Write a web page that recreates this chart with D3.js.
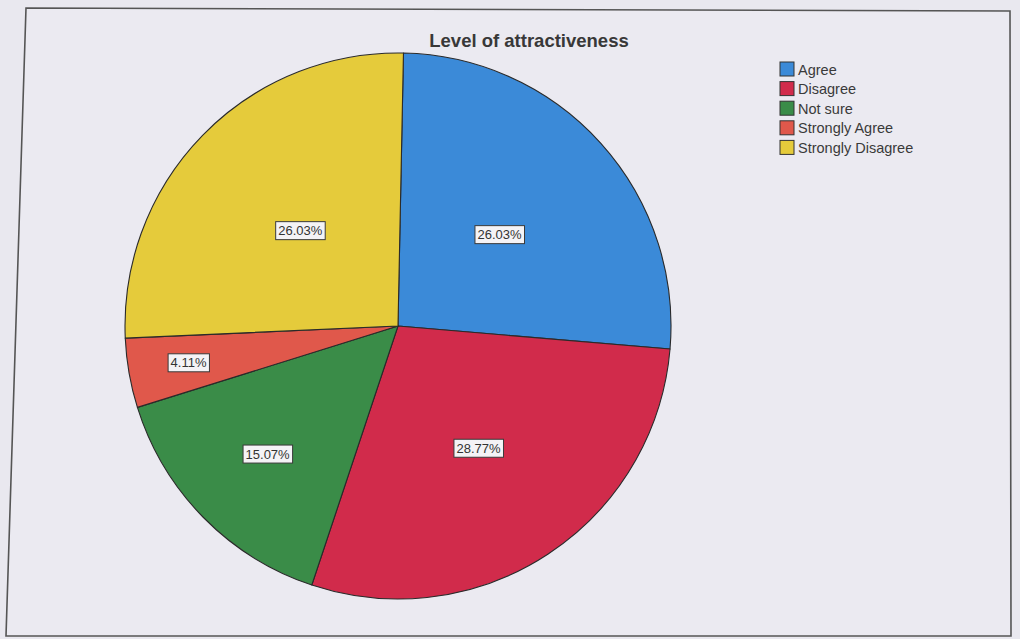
<!DOCTYPE html>
<html>
<head>
<meta charset="utf-8">
<script src="https://cdn.jsdelivr.net/npm/d3@7"></script>
<style>
  html, body { margin: 0; padding: 0; background: #e9e8ef; }
  svg { display: block; }
</style>
</head>
<body>
<svg id="chart" width="1020" height="639"></svg>
<script>
// Responses to "Level of attractiveness" (percent of respondents)
const categories = ["Agree", "Disagree", "Not sure", "Strongly Agree", "Strongly Disagree"];
const percents   = [26.03, 28.77, 15.07, 4.11, 26.03];
const colors     = ["#3b8ad8", "#d12b4b", "#3a8c48", "#e0584b", "#e5cb3b"];
const title = "Level of attractiveness";

const W = 1020, H = 639;
const svg = d3.select("#chart");

// page background and the chart frame
svg.append("rect").attr("width", W).attr("height", H).attr("fill", "#e9e8ef");
svg.append("path")
  .attr("d", "M26,8 L1010,11 L1011,636 L6,636 Z")
  .attr("fill", "#ebeaf1")
  .attr("stroke", "#555")
  .attr("stroke-width", 1.6);

const cx = 398, cy = 326, R = 273;
const rot = 0.02;

const color = d3.scaleOrdinal().domain(categories).range(colors);

const pie = d3.pie()
  .value(d => d.value)
  .sort(null)
  .startAngle(rot)
  .endAngle(2 * Math.PI + rot);

const data = categories.map((c, i) => ({ name: c, value: percents[i] }));
const arcs = pie(data);

const arc = d3.arc().innerRadius(0).outerRadius(R);

const g = svg.append("g").attr("transform", `translate(${cx},${cy})`);

g.selectAll("path.slice")
  .data(arcs)
  .join("path")
  .attr("class", "slice")
  .attr("d", arc)
  .attr("fill", d => color(d.data.name))
  .attr("stroke", "#2a2a2a")
  .attr("stroke-width", 1.1)
  .attr("stroke-linejoin", "round");

// value labels: narrow slices push their label further out
function labelFrac(p) {
  return p >= 0.2 ? 0.5 + 1.3 * (p - 0.26) : 0.82 - p;
}

const labelG = g.selectAll("g.lbl")
  .data(arcs)
  .join("g")
  .attr("class", "lbl")
  .attr("transform", d => {
    const r = R * labelFrac(d.data.value / 100);
    const a = (d.startAngle + d.endAngle) / 2;
    return `translate(${r * Math.sin(a)},${-r * Math.cos(a)})`;
  });

labelG.each(function(d) {
  const sel = d3.select(this);
  const t = sel.append("text")
    .attr("text-anchor", "middle")
    .attr("dy", "0.35em")
    .attr("font-family", "Liberation Sans, Arial, sans-serif")
    .attr("font-size", 13)
    .attr("fill", "#333")
    .text(d.data.value.toFixed(2) + "%");
  const bb = t.node().getBBox();
  sel.insert("rect", "text")
    .attr("x", bb.x - 2.5)
    .attr("y", bb.y - 1.5)
    .attr("width", bb.width + 5)
    .attr("height", bb.height + 3)
    .attr("fill", "#f4f3f6")
    .attr("stroke", "#3a3a3a")
    .attr("stroke-width", 1);
});

// title
svg.append("text")
  .attr("x", 529)
  .attr("y", 47)
  .attr("text-anchor", "middle")
  .attr("font-family", "Liberation Sans, Arial, sans-serif")
  .attr("font-weight", "bold")
  .attr("font-size", 18.5)
  .attr("fill", "#383838")
  .text(title);

// legend
const legend = svg.append("g").attr("transform", "translate(780,62)");
const rowH = 19.6;
const items = legend.selectAll("g")
  .data(categories)
  .join("g")
  .attr("transform", (d, i) => `translate(0,${i * rowH})`);
items.append("rect")
  .attr("width", 14).attr("height", 14)
  .attr("fill", d => color(d))
  .attr("stroke", "#333")
  .attr("stroke-width", 1);
items.append("text")
  .attr("x", 18)
  .attr("y", 12.5)
  .attr("font-family", "Liberation Sans, Arial, sans-serif")
  .attr("font-size", 14.5)
  .attr("fill", "#3a3a3a")
  .text(d => d);
</script>
</body>
</html>
